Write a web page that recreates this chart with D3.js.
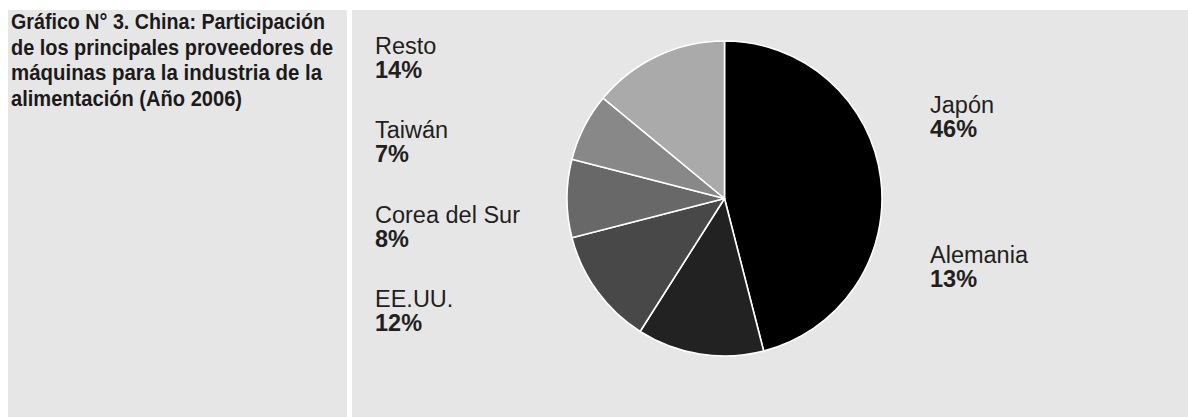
<!DOCTYPE html>
<html>
<head>
<meta charset="utf-8">
<script src="https://cdn.jsdelivr.net/npm/d3@7"></script>
<style>
  body { margin: 0; background: #fff; }
  svg { display: block; }
</style>
</head>
<body>
<svg id="chart" width="1188" height="417"></svg>
<script>
// data
var titleLines = [
    "Gráfico N° 3. China: Participación",
    "de los principales proveedores de",
    "máquinas para la industria de la",
    "alimentación (Año 2006)"
];
var countries = ["Japón", "Alemania", "EE.UU.", "Corea del Sur", "Taiwán", "Resto"];
var shares = [46, 13, 12, 8, 7, 14];

// layout
var W = 1188, H = 417;
var cx = 724.5, cy = 198.5, radius = 157.5;
var titleWidths = [314, 322, 311, 231];
// label baseline for the country name (percentage sits one line under it)
var labelPos = [
    [930, 113], [930, 263], [375, 307], [375, 223], [375, 138], [375, 54]
];

var svg = d3.select("#chart");

// grey panels
svg.append("rect").attr("x", 8).attr("y", 10).attr("width", 339).attr("height", H - 10).attr("fill", "#e6e6e6");
svg.append("rect").attr("x", 352).attr("y", 10).attr("width", W - 352).attr("height", H - 10).attr("fill", "#e6e6e6");

// title: condensed bold, squeezed to the widths in the picture
var title = svg.append("g").attr("class", "title");
titleLines.forEach(function(line, i) {
    title.append("text")
        .attr("x", 11)
        .attr("y", 29 + i * 25.7)
        .attr("font-family", "'Liberation Sans', Arial, Helvetica, sans-serif")
        .attr("font-weight", "bold")
        .attr("font-size", 21.5)
        .attr("fill", "#1c1a1b")
        .attr("textLength", titleWidths[i])
        .attr("lengthAdjust", "spacingAndGlyphs")
        .text(line);
});

// pie
var color = d3.scaleOrdinal()
    .domain(countries)
    .range(["#000000", "#222222", "#484848", "#676867", "#888888", "#aaaaaa"]);

var pie = d3.pie().sort(null).value(function(d) { return d; });
var arc = d3.arc().innerRadius(0).outerRadius(radius);

var slices = pie(shares);

svg.append("g")
    .attr("transform", "translate(" + cx + "," + cy + ")")
    .selectAll("path")
    .data(slices)
    .enter().append("path")
    .attr("d", arc)
    .attr("fill", function(d, i) { return color(countries[i]); })
    .attr("stroke", "#ffffff")
    .attr("stroke-width", 1.6)
    .attr("stroke-linejoin", "round");

// labels
var labels = svg.append("g")
    .attr("font-family", "'Liberation Sans', Arial, Helvetica, sans-serif")
    .attr("fill", "#231f20");

countries.forEach(function(name, i) {
    var p = labelPos[i];
    labels.append("text")
        .attr("x", p[0])
        .attr("y", p[1])
        .attr("font-size", 23.5)
        .text(name);
    labels.append("text")
        .attr("x", p[0])
        .attr("y", p[1] + 23.5)
        .attr("font-size", 23.5)
        .attr("font-weight", "bold")
        .text(shares[i] + "%");
});
</script>
</body>
</html>
